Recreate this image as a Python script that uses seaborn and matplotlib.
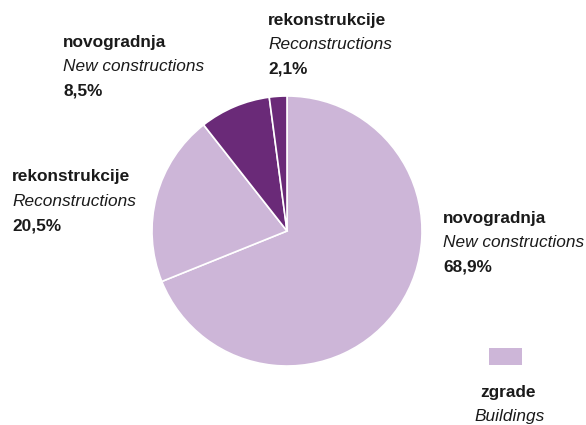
import matplotlib
matplotlib.use("Agg")
import matplotlib.pyplot as plt
import seaborn as sns

# 数据
vrste = ['novogradnja', 'rekonstrukcije', 'novogradnja', 'rekonstrukcije']
vrste_en = ['New constructions', 'Reconstructions', 'New constructions', 'Reconstructions']
udjeli = [68.9, 20.5, 8.5, 2.1]
skupine = ['zgrade', 'zgrade', 'ostalo', 'ostalo']
legenda_hr = ['zgrade']
legenda_en = ['Buildings']

sns.set_theme(style="white")
plt.rcParams['font.family'] = ['Liberation Sans', 'DejaVu Sans']

light = '#cdb6d8'
dark = '#6a2a78'
colors = [light if s == 'zgrade' else dark for s in skupine]

W, H = 586, 425
fig = plt.figure(figsize=(W / 100, H / 100), dpi=100)

cx, cy, r = 287, 231, 135
ax = fig.add_axes([(cx - r) / W, (H - cy - r) / H, 2 * r / W, 2 * r / H])
ax.pie(udjeli, colors=colors, startangle=90, counterclock=False,
       wedgeprops=dict(edgecolor='white', linewidth=1.2))
ax.set_xlim(-1, 1)
ax.set_ylim(-1, 1)
ax.set_aspect('equal')
ax.axis('off')

# 标签位置 (像素, 左上第一行中心)
pos = [(443, 218), (12, 177), (63, 42), (268, 20)]
step = 24.5
fs = 12.4
txt = '#1a1a1a'
for (x, y), hr, en, v in zip(pos, vrste, vrste_en, udjeli):
    fig.text(x / W, 1 - y / H, hr, fontsize=fs, fontweight='bold', va='center', color=txt)
    fig.text(x / W, 1 - (y + step) / H, en, fontsize=fs, style='italic', va='center', color=txt)
    fig.text(x / W, 1 - (y + 2 * step) / H, f"{v:.1f}%".replace('.', ','), fontsize=fs,
             fontweight='bold', va='center', color=txt)

# 图例
lax = fig.add_axes([489 / W, 1 - 365 / H, 33 / W, 17 / H])
lax.add_patch(plt.Rectangle((0, 0), 1, 1, color=light))
lax.set_xlim(0, 1)
lax.set_ylim(0, 1)
lax.axis('off')
fig.text(480 / W, 1 - 393 / H, legenda_hr[0], fontsize=fs, fontweight='bold', va='center', color=txt)
fig.text(474 / W, 1 - 417 / H, legenda_en[0], fontsize=fs, style='italic', va='center', color=txt)

fig.savefig('out.png', dpi=100)
